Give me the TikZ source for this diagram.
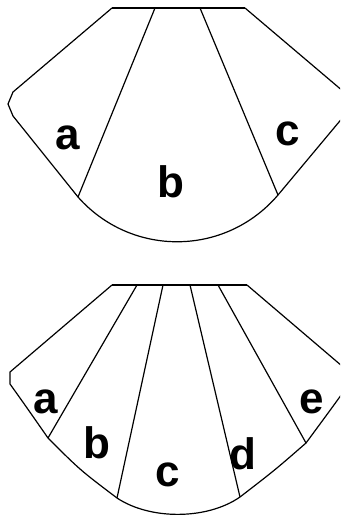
\documentclass[tikz,border=0pt]{standalone}
\usepackage{fontspec}
\setmainfont{Liberation Sans}
\begin{document}
\begin{tikzpicture}[x=1pt,y=-1pt,
  edge/.style={line width=1.2pt,line join=round},
  lbl/.style={font=\fontsize{44}{44}\selectfont\bfseries,inner sep=0pt}]
\useasboundingbox (0,0) rectangle (340,516);
\begin{scope}
\clip (0,0) rectangle (340,516);
% ---------- top figure ----------
\coordinate (t1) at (112,8);
\coordinate (t2) at (155,8);
\coordinate (t3) at (200,8);
\coordinate (t4) at (245,8);
\coordinate (bl) at (78,197);
\coordinate (br) at (278,195);
\draw[edge] (t1) -- (t4);
\draw[edge] (t1) -- (13,92) -- (8,104) -- (13,116) -- (bl)
  .. controls (131,257) and (225,257) .. (br)
  -- (344,116) -- (349,104) -- (344,92) -- (t4);
\draw[edge] (t2) -- (bl);
\draw[edge] (t3) -- (br);
\node[lbl] (la) at (68,138) {a};
\node[lbl] (lb) at (171,182) {b};
\node[lbl] (lc) at (288,134) {c};
% ---------- bottom figure ----------
\coordinate (u1) at (112,285);
\coordinate (u2) at (137,285);
\coordinate (u3) at (163,285);
\coordinate (u4) at (190,285);
\coordinate (u5) at (218,285);
\coordinate (u6) at (247,285);
\coordinate (pa) at (48,438);
\coordinate (pb) at (117,498);
\coordinate (pc) at (240,497);
\coordinate (pd) at (306,443);
\draw[edge] (u1) -- (u6);
\draw[edge] (u1) -- (10,372) -- (10,384) .. controls (25,405) .. (pa)
  .. controls (80,470) .. (pb)
  .. controls (150,520) and (207,520) .. (pc)
  .. controls (275,470) .. (pd)
  .. controls (334,405) .. (349,384) -- (349,372) -- (u6);
\draw[edge] (u2) -- (pa);
\draw[edge] (u3) -- (pb);
\draw[edge] (u4) -- (pc);
\draw[edge] (u5) -- (pd);
\end{scope}
\node[lbl] (ma) at (46,402) {a};
\node[lbl] (mb) at (97,443) {b};
\node[lbl] (mc) at (168,475) {c};
\node[lbl] (md) at (243,454) {d};
\node[lbl] (me) at (312,402) {e};
\end{tikzpicture}
\end{document}
